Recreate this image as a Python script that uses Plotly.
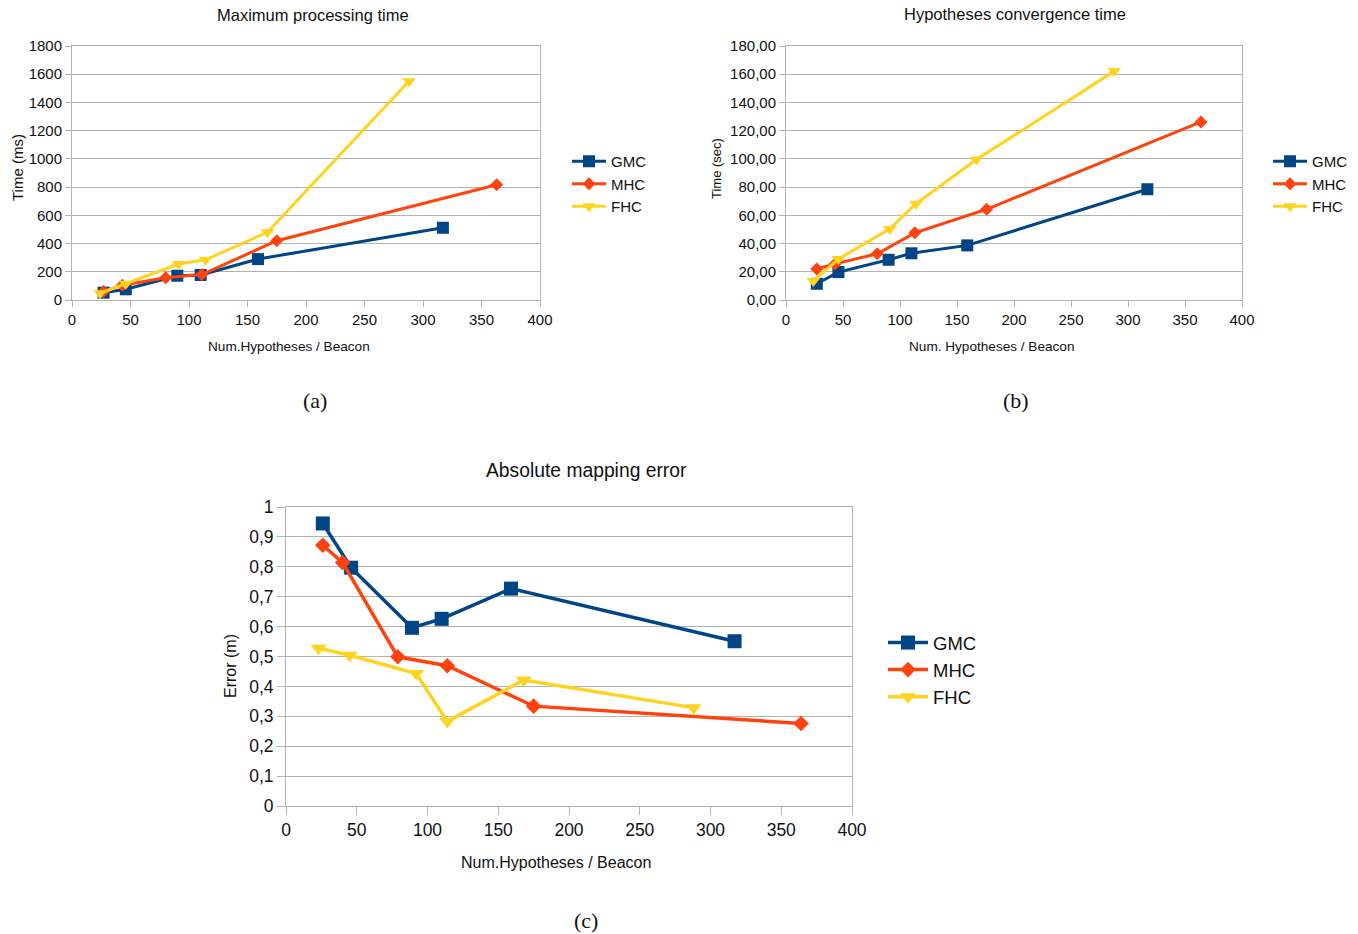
import plotly.graph_objects as go

W, H = 1358, 934

series_names = ["GMC", "MHC", "FHC"]
colors = ["#004586", "#ff420e", "#ffd320"]
symbols = ["square", "diamond", "triangle-down"]

# Panel (a): Maximum processing time (ms)
a_gmc_x = [27, 46, 90, 110, 159, 317]
a_gmc_y = [52, 76, 172, 177, 290, 512]
a_mhc_x = [27, 43, 80, 111, 175, 363]
a_mhc_y = [60, 105, 158, 180, 420, 817]
a_fhc_x = [24, 46, 91, 114, 167, 288]
a_fhc_y = [48, 115, 255, 285, 480, 1550]

# Panel (b): Hypotheses convergence time (sec)
b_gmc_x = [27, 46, 90, 110, 159, 317]
b_gmc_y = [11.5, 19.8, 28.5, 33.1, 38.7, 78.5]
b_mhc_x = [27, 43, 80, 113, 176, 364]
b_mhc_y = [22.0, 25.6, 32.8, 47.6, 64.3, 126.2]
b_fhc_x = [24, 46, 91, 114, 167, 288]
b_fhc_y = [13.5, 29.0, 50.4, 68.2, 99.5, 162.2]

# Panel (c): Absolute mapping error (m)
c_gmc_x = [26, 46, 89, 110, 159, 317]
c_gmc_y = [0.945, 0.797, 0.596, 0.626, 0.727, 0.551]
c_mhc_x = [26, 40, 79, 114, 175, 364]
c_mhc_y = [0.872, 0.814, 0.499, 0.469, 0.334, 0.276]
c_fhc_x = [23, 45, 92, 114, 168, 288]
c_fhc_y = [0.528, 0.504, 0.443, 0.283, 0.421, 0.329]

x_ticks = [0, 50, 100, 150, 200, 250, 300, 350, 400]

FONT = "Liberation Sans, Arial, sans-serif"
SERIF = "Liberation Serif, DejaVu Serif, serif"
GRID = "#b3b3b3"


def px_x(v):
    return v / W


def px_y(v):
    return 1 - v / H


fig = go.Figure()

panels = [
    dict(xs=[a_gmc_x, a_mhc_x, a_fhc_x], ys=[a_gmc_y, a_mhc_y, a_fhc_y],
         ax="", legend="legend", msz=[12, 10, 12], lw=3),
    dict(xs=[b_gmc_x, b_mhc_x, b_fhc_x], ys=[b_gmc_y, b_mhc_y, b_fhc_y],
         ax="2", legend="legend2", msz=[12, 10, 12], lw=3),
    dict(xs=[c_gmc_x, c_mhc_x, c_fhc_x], ys=[c_gmc_y, c_mhc_y, c_fhc_y],
         ax="3", legend="legend3", msz=[14, 12, 14], lw=3.5),
]

for p in panels:
    for i, name in enumerate(series_names):
        fig.add_trace(go.Scatter(
            x=p["xs"][i], y=p["ys"][i], name=name, mode="lines+markers",
            line=dict(color=colors[i], width=p["lw"]),
            marker=dict(symbol=symbols[i], size=p["msz"][i], color=colors[i]),
            xaxis="x" + p["ax"], yaxis="y" + p["ax"], legend=p["legend"],
            cliponaxis=False,
        ))


def axis_common(size, tl, grid):
    return dict(showgrid=grid, gridcolor=GRID, gridwidth=1,
                showline=True, linecolor=GRID, linewidth=1, mirror=True,
                ticks="outside", ticklen=tl, tickcolor=GRID, tickwidth=1,
                zeroline=False, tickfont=dict(family=FONT, size=size, color="#111"))


layout = dict(
    width=W, height=H, margin=dict(l=0, r=0, t=0, b=0, autoexpand=False),
    paper_bgcolor="white", plot_bgcolor="white",
    separators=", ",
    showlegend=True,
    font=dict(family=FONT, color="#111"),
)

# Panel (a)
layout["xaxis"] = dict(domain=[px_x(72), px_x(540)], range=[0, 400], tickvals=x_ticks,
                       anchor="y", **axis_common(15, 6, False))
layout["yaxis"] = dict(domain=[px_y(300), px_y(46)], range=[0, 1800], dtick=200,
                       anchor="x", **axis_common(15, 6, True))
# Panel (b)
layout["xaxis2"] = dict(domain=[px_x(786), px_x(1242)], range=[0, 400], tickvals=x_ticks,
                        anchor="y2", **axis_common(15, 6, False))
layout["yaxis2"] = dict(domain=[px_y(300), px_y(46)], range=[0, 180], dtick=20,
                        tickformat=".2f", anchor="x2", **axis_common(15, 6, True))
# Panel (c)
layout["xaxis3"] = dict(domain=[px_x(286), px_x(852)], range=[0, 400], tickvals=x_ticks,
                        anchor="y3", **axis_common(17.5, 8, False))
layout["yaxis3"] = dict(domain=[px_y(806), px_y(507)], range=[0, 1], dtick=0.1,
                        anchor="x3", **axis_common(17.5, 8, True))

leg_common = dict(bgcolor="rgba(0,0,0,0)", borderwidth=0, xanchor="left",
                  yanchor="middle", tracegroupgap=0)
layout["legend"] = dict(x=px_x(567), y=px_y(184), itemwidth=34,
                        font=dict(family=FONT, size=15, color="#111"), **leg_common)
layout["legend2"] = dict(x=px_x(1268), y=px_y(184), itemwidth=34,
                         font=dict(family=FONT, size=15, color="#111"), **leg_common)
layout["legend3"] = dict(x=px_x(883), y=px_y(670), itemwidth=40,
                         font=dict(family=FONT, size=18.5, color="#111"), **leg_common)

fig.update_layout(**layout)

annos = [
    # titles
    (313, 15, "Maximum processing time", 16.5, FONT, 0),
    (1015, 14, "Hypotheses convergence time", 16.5, FONT, 0),
    (586, 470, "Absolute mapping error", 19.3, FONT, 0),
    # x axis titles
    (289, 347, "Num.Hypotheses / Beacon", 13.6, FONT, 0),
    (991, 347, "Num. Hypotheses / Beacon", 13.6, FONT, 0),
    (556, 862, "Num.Hypotheses / Beacon", 16, FONT, 0),
    # y axis titles
    (17, 168, "Time (ms)", 15, FONT, -90),
    (716, 169, "Time (sec)", 13, FONT, -90),
    (230, 666, "Error (m)", 16, FONT, -90),
    # captions
    (315, 400, "(a)", 22, SERIF, 0),
    (1016, 400, "(b)", 22, SERIF, 0),
    (586, 920, "(c)", 22, SERIF, 0),
]
for x, y, t, s, fam, ang in annos:
    fig.add_annotation(x=px_x(x), y=px_y(y), xref="paper", yref="paper", text=t,
                       showarrow=False, xanchor="center", yanchor="middle",
                       textangle=ang, font=dict(family=fam, size=s, color="#111"))

post = (
    "document.documentElement.style.margin='0px';"
    "document.documentElement.style.overflow='hidden';"
    "document.body.style.margin='0px';"
    "document.body.style.overflow='hidden';"
)

fig.write_html("out.html", config={"displayModeBar": False}, post_script=post)
